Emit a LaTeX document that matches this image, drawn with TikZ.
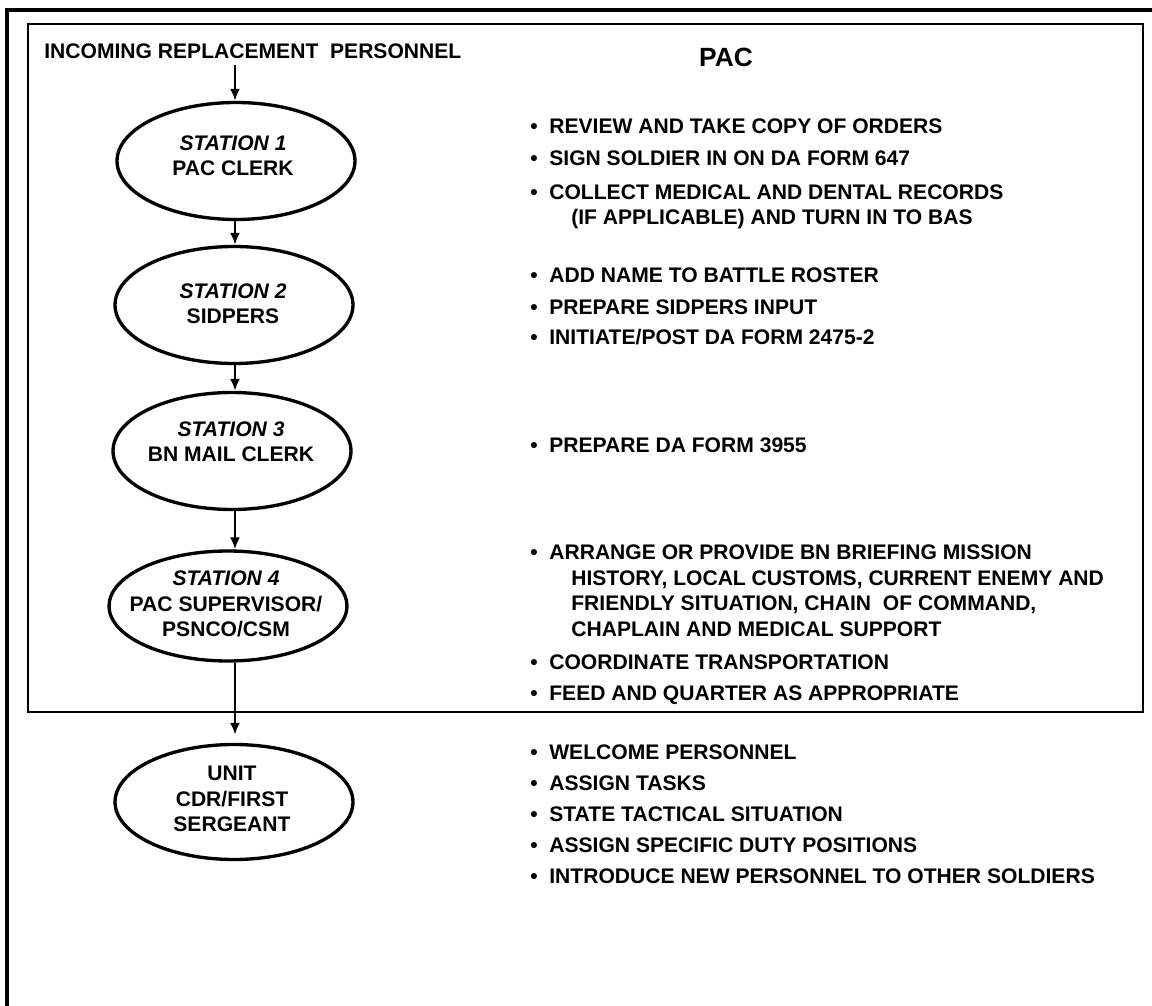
\documentclass[tikz,border=0pt]{standalone}
\usepackage{fontspec}
\setmainfont{Liberation Sans}
\usetikzlibrary{shapes.geometric}
\usetikzlibrary{positioning}
\usetikzlibrary{arrows.meta}

\newcommand{\bul}{\makebox[0.38cm][l]{\textbullet}}
\newcommand{\bulpad}{\hspace*{0.82cm}}

\begin{document}
\begin{tikzpicture}[x=0.02cm,y=-0.02cm,
  every node/.style={font=\fontsize{12}{14.5}\selectfont\bfseries},
  station/.style={draw,ellipse,line width=1.9pt,minimum width=4.76cm,minimum height=2.34cm,inner sep=0pt},
  stext/.style={align=center,inner sep=0pt},
  item/.style={anchor=base west,align=left,inner sep=0pt},
  flow/.style={line width=1.3pt,-{Latex[length=0.24cm,width=0.2cm]}}]
\fill[white] (0,0) rectangle (1152,1006);
\useasboundingbox (0,0) rectangle (1152,1006);
\draw[line width=2pt] (7,1006)--(7,10)--(1152,10);
\draw[line width=1.1pt] (28,24) rectangle (1143,712);
\coordinate (ax) at (235,0);

\node[anchor=base west,inner sep=0.1cm] (incoming) at (39,59) {INCOMING REPLACEMENT\ \ PERSONNEL};
\node[font=\fontsize{15}{18}\selectfont\bfseries,anchor=base,inner sep=0pt] (pac) at (726,67) {PAC};

\node[station] (s1) at (236,161) {};
\node[stext] (s1t) at (233,156) {\textit{STATION 1}\\PAC CLERK};
\node[station] (s2) at (234,305) {};
\node[stext] (s2t) at (233,304) {\textit{STATION 2}\\SIDPERS};
\node[station] (s3) at (232,451) {};
\node[stext] (s3t) at (231,442) {\textit{STATION 3}\\BN MAIL CLERK};
\node[station,minimum height=2.2cm] (s4) at (228,606) {};
\node[stext] (s4t) at (226,604) {\textit{STATION 4}\\PAC SUPERVISOR/\\PSNCO/CSM};
\node[station,minimum height=2.3cm] (u) at (234,802) {};
\node[stext] (ut) at (232,799) {UNIT\\CDR/FIRST\\SERGEANT};

\draw[flow] (incoming.south -| ax)--(s1.north -| ax);
\draw[flow] (s1.south -| ax)--(s2.north -| ax);
\draw[flow] (s2.south -| ax)--(s3.north -| ax);
\draw[flow] (s3.south -| ax)--(s4.north -| ax);
\draw[flow,shorten >=0.16cm] (s4.south -| ax)--(u.north -| ax);

% multi-line items sit on their last line
\node[item] (p1) at (530,134) {\bul REVIEW AND TAKE COPY OF ORDERS};
\node[item] (p2) at (530,166) {\bul SIGN SOLDIER IN ON DA FORM 647};
\node[item] (p3) at (530,225) {\bul COLLECT MEDICAL AND DENTAL RECORDS\\\bulpad(IF APPLICABLE) AND TURN IN TO BAS};
\node[item] (p4) at (530,283) {\bul ADD NAME TO BATTLE ROSTER};
\node[item] (p5) at (530,315) {\bul PREPARE SIDPERS INPUT};
\node[item] (p6) at (530,345) {\bul INITIATE/POST DA FORM 2475-2};
\node[item] (p7) at (530,453) {\bul PREPARE DA FORM 3955};
\node[item] (p8) at (530,636) {\bul ARRANGE OR PROVIDE BN BRIEFING MISSION\\\bulpad HISTORY, LOCAL CUSTOMS, CURRENT ENEMY AND\\\bulpad FRIENDLY SITUATION, CHAIN\ \ OF COMMAND,\\\bulpad CHAPLAIN AND MEDICAL SUPPORT};
\node[item] (p9) at (530,669) {\bul COORDINATE TRANSPORTATION};
\node[item] (p10) at (530,700) {\bul FEED AND QUARTER AS APPROPRIATE};

\node[item] (u1) at (530,759) {\bul WELCOME PERSONNEL};
\node[item] (u2) at (530,790) {\bul ASSIGN TASKS};
\node[item] (u3) at (530,821) {\bul STATE TACTICAL SITUATION};
\node[item] (u4) at (530,852) {\bul ASSIGN SPECIFIC DUTY POSITIONS};
\node[item] (u5) at (530,883) {\bul INTRODUCE NEW PERSONNEL TO OTHER SOLDIERS};
\end{tikzpicture}
\end{document}
